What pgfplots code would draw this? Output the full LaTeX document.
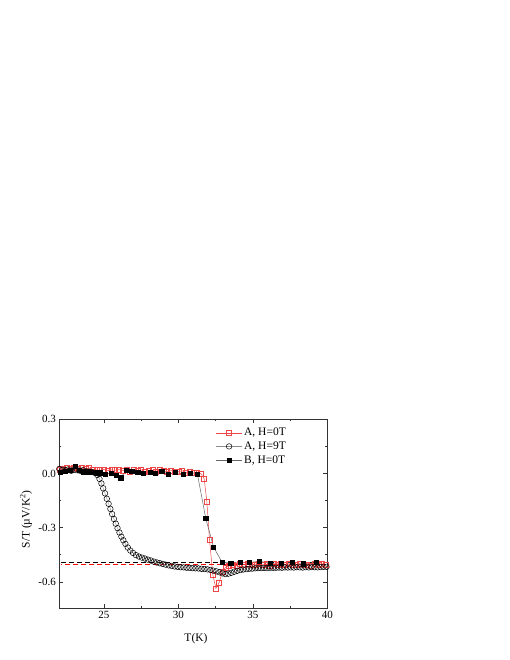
\documentclass[border=0pt]{standalone}
\usepackage{fontspec}
\setmainfont{Liberation Serif}
\usepackage{pgfplots}
\pgfplotsset{compat=1.18}
\definecolor{myred}{RGB}{236,70,70}
\begin{document}
\begin{tikzpicture}
\useasboundingbox (0,0) rectangle (510pt,660pt);
\begin{axis}[
 at={(59.3pt,52pt)}, anchor=south west,
 scale only axis, width=268pt, height=188.7pt,
 xmin=22, xmax=40, ymin=-0.745, ymax=0.3,
 xtick={25,30,35,40}, ytick={-0.6,-0.3,0,0.3},
 yticklabels={-0.6,-0.3,0.0,0.3},
 minor x tick num=1, minor y tick num=1,
 tick align=inside, major tick length=4pt, minor tick length=2pt,
 axis line style={line width=0.8pt, black!80},
 every tick/.style={black!80, line width=0.6pt},
 tick label style={font=\fontsize{11}{13}\selectfont},
 /pgf/number format/assume math mode=true,
 label style={font=\fontsize{11.5}{13}\selectfont},
 xlabel={T(K)}, ylabel={S/T (µV/K\textsuperscript{2})},
 xlabel style={at={(axis description cs:0.51,-0.165)}, anchor=center},
 ylabel style={at={(axis description cs:-0.124,0.47)}, anchor=center},
 legend style={at={(axis description cs:0.573,0.975)}, anchor=north west, draw=none, fill=none, font=\fontsize{11.5}{13}\selectfont, row sep=0.5pt},
 legend cell align=left,
 legend image code/.code={\draw[mark repeat=2,mark phase=2,#1] plot coordinates {(0cm,0cm) (0.45cm,0cm) (0.9cm,0cm)};},
]
% dashed reference lines
\addplot[forget plot, black, dash pattern=on 5pt off 3pt, line width=0.8pt] coordinates {(22.1,-0.490) (40,-0.490)};
\addplot[forget plot, red, dash pattern=on 5pt off 3pt, dash phase=4pt, line width=0.8pt] coordinates {(22.1,-0.501) (40,-0.501)};
% A, H=0T
\addplot[myred, line width=0.5pt, mark=square, mark size=2.5pt, mark options={solid, fill=white, line width=0.5pt}] coordinates {
(22.0,0.020) (22.25,0.025) (22.5,0.030) (22.75,0.028) (23.0,0.032) (23.25,0.027) (23.5,0.030) (23.75,0.025)
(24.0,0.030) (24.25,0.022) (24.5,0.020) (24.75,0.018) (25.0,0.022) (25.25,0.015) (25.5,0.020) (25.75,0.018)
(26.0,0.022) (26.25,0.015) (26.5,0.020) (26.75,0.012) (27.0,0.018) (27.25,0.015) (27.5,0.020) (27.75,0.010)
(28.0,0.015) (28.25,0.018) (28.5,0.012) (28.75,0.020) (29.0,0.014) (29.25,0.010) (29.5,0.016) (29.75,0.012)
(30.0,0.010) (30.25,0.015) (30.5,0.005) (30.75,0.010) (31.0,0.003) (31.25,0.005) (31.5,0.000)
(31.73,-0.029) (31.91,-0.156) (32.09,-0.368) (32.31,-0.561) (32.52,-0.637) (32.74,-0.603) (32.95,-0.545)
(33.15,-0.520) (33.4,-0.512) (33.65,-0.505) (33.9,-0.510) (34.15,-0.502) (34.4,-0.506) (34.65,-0.500)
(34.9,-0.508) (35.15,-0.503) (35.4,-0.498) (35.65,-0.506) (35.9,-0.502) (36.15,-0.509) (36.4,-0.500)
(36.65,-0.505) (36.9,-0.502) (37.15,-0.507) (37.4,-0.499) (37.65,-0.504) (37.9,-0.508) (38.15,-0.501)
(38.4,-0.506) (38.65,-0.503) (38.9,-0.509) (39.15,-0.502) (39.4,-0.505) (39.65,-0.500) (39.9,-0.504)
};
\addlegendentry{A, H=0T}
% A, H=9T
\addplot[black!45, line width=0.4pt, mark=o, mark size=2.8pt, mark options={solid, black, fill=white, line width=0.5pt}] coordinates {
(22.0,0.025) (22.2,0.020) (22.4,0.018) (22.6,0.022) (22.8,0.015) (23.0,0.020) (23.2,0.018) (23.4,0.015)
(23.6,0.018) (23.8,0.012) (24.0,0.010) (24.2,0.008) (24.4,0.003) (24.55,-0.008) (24.7,-0.030) (24.83,-0.055)
(24.95,-0.082) (25.07,-0.110) (25.19,-0.140) (25.31,-0.168) (25.43,-0.196) (25.55,-0.225) (25.67,-0.252)
(25.79,-0.278) (25.91,-0.303) (26.04,-0.327) (26.17,-0.350) (26.3,-0.370) (26.44,-0.390) (26.6,-0.410)
(26.77,-0.427) (26.95,-0.440) (27.15,-0.452) (27.35,-0.460) (27.55,-0.466) (27.75,-0.471) (27.95,-0.477)
(28.15,-0.482) (28.35,-0.488) (28.55,-0.493) (28.75,-0.497) (28.95,-0.501) (29.15,-0.505) (29.35,-0.509)
(29.55,-0.512) (29.75,-0.515) (29.95,-0.517) (30.15,-0.519) (30.35,-0.520) (30.55,-0.522) (30.75,-0.523)
(30.95,-0.524) (31.15,-0.525) (31.35,-0.526) (31.55,-0.528) (31.75,-0.529) (31.95,-0.531) (32.15,-0.534)
(32.35,-0.538) (32.55,-0.542) (32.75,-0.547) (32.95,-0.553) (33.15,-0.557) (33.35,-0.555) (33.55,-0.550)
(33.75,-0.544) (33.95,-0.539) (34.15,-0.535) (34.35,-0.532) (34.55,-0.530) (34.75,-0.528) (34.95,-0.527)
(35.15,-0.525) (35.35,-0.524) (35.55,-0.524) (35.75,-0.523) (35.95,-0.524) (36.15,-0.522) (36.35,-0.523)
(36.55,-0.522) (36.75,-0.521) (36.95,-0.522) (37.15,-0.520) (37.35,-0.521) (37.55,-0.520) (37.75,-0.521)
(37.95,-0.519) (38.15,-0.520) (38.35,-0.521) (38.55,-0.519) (38.75,-0.520) (38.95,-0.518) (39.15,-0.519)
(39.35,-0.520) (39.55,-0.518) (39.75,-0.517) (39.95,-0.517)
};
\addlegendentry{A, H=9T}
% B, H=0T
\addplot[black!60, line width=0.5pt, mark=square*, mark size=2.1pt, mark options={solid, black}] coordinates {
(22.09,0.007) (22.38,0.013) (22.72,0.017) (23.06,0.040) (23.35,0.018) (23.61,0.009) (23.91,0.009)
(24.18,0.007) (24.47,0.004) (24.74,0.004) (25.07,-0.005) (25.48,0.000) (25.81,-0.011) (26.13,-0.024)
(26.49,0.018) (26.87,0.013) (27.27,0.007) (27.65,0.000) (28.10,0.007) (28.44,0.000) (28.88,0.013)
(29.33,-0.005) (29.78,0.007) (30.30,-0.005) (30.79,0.000) (31.28,-0.005) (31.84,-0.250) (32.36,-0.407)
(32.92,-0.490) (33.52,-0.497) (34.15,-0.493) (34.78,-0.493) (35.45,-0.486) (36.17,-0.497) (36.89,-0.497)
(37.67,-0.490) (38.41,-0.500) (39.26,-0.493)
};
\addlegendentry{B, H=0T}
\end{axis}
\end{tikzpicture}
\end{document}
